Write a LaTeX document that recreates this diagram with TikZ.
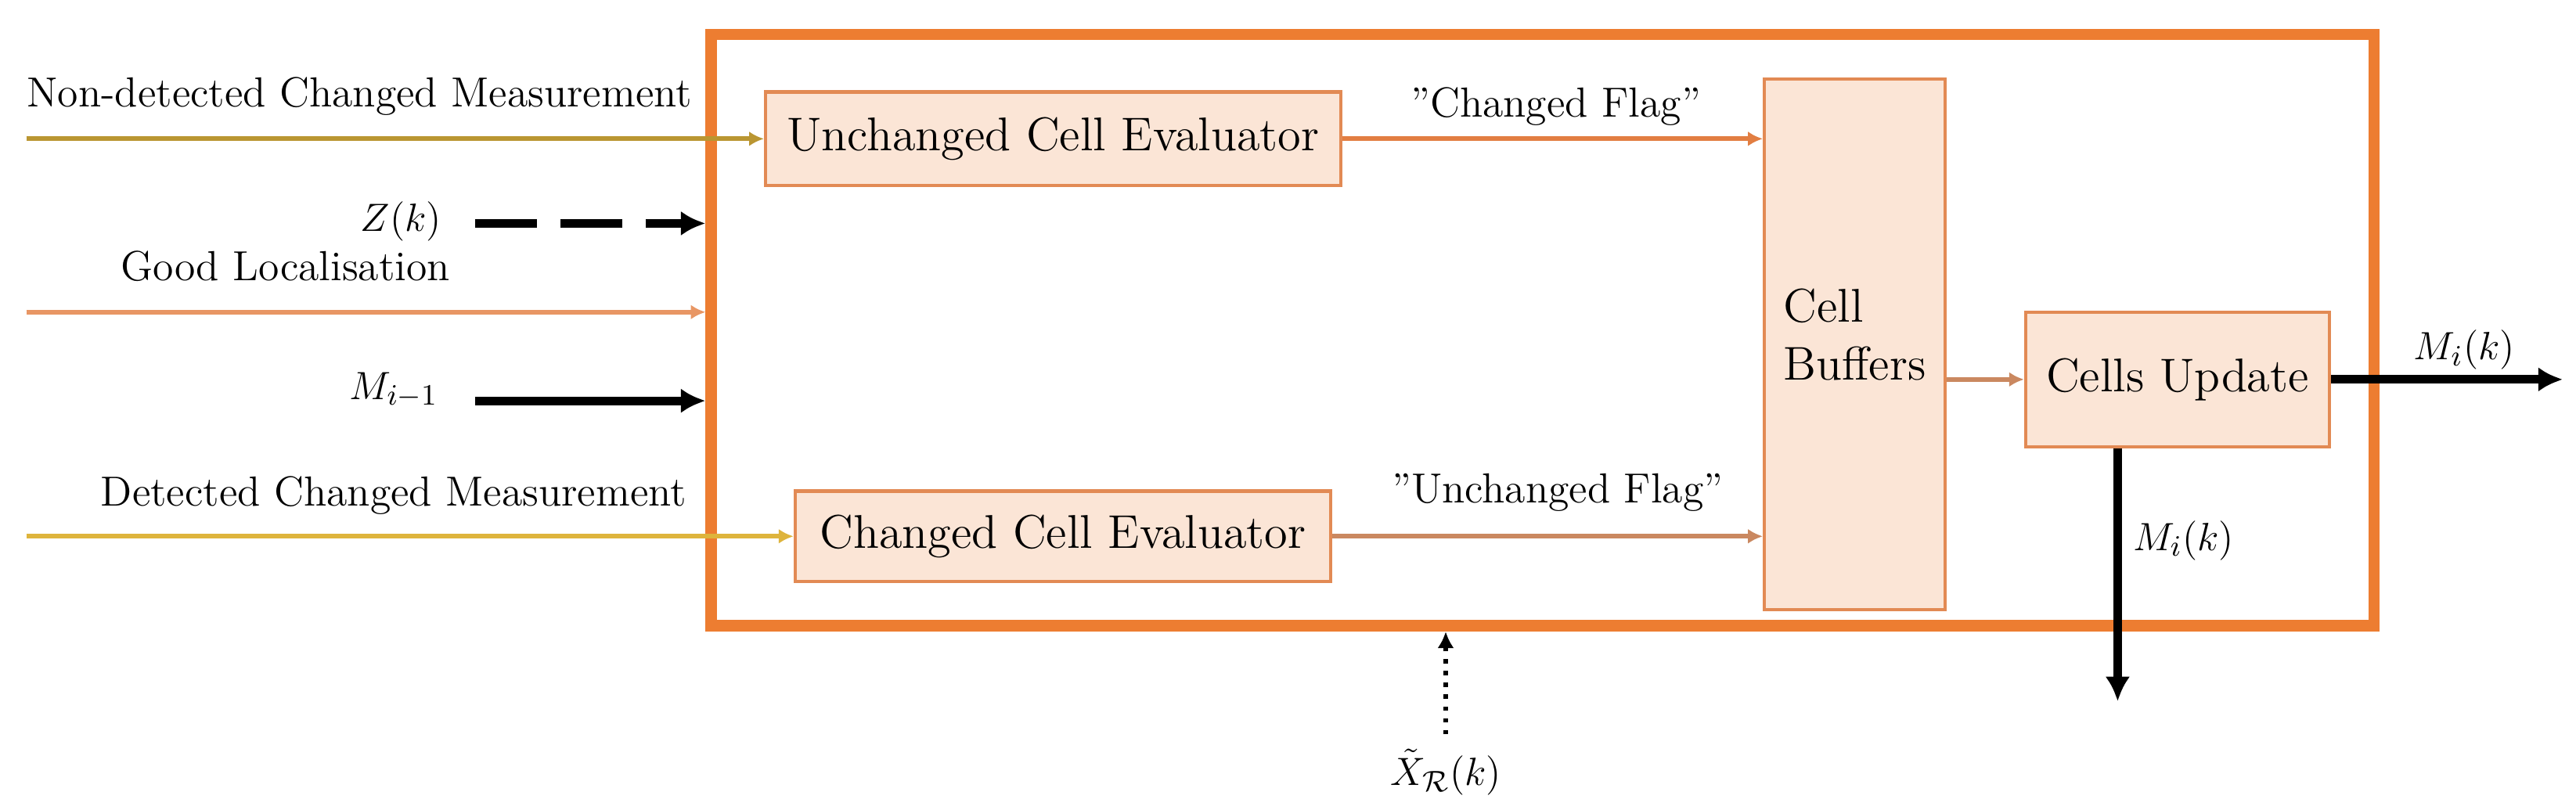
\documentclass[tikz,border=0pt]{standalone}
\usetikzlibrary{arrows.meta}
\definecolor{bigor}{RGB}{237,125,49}
\definecolor{boxfill}{RGB}{251,229,214}
\definecolor{boxline}{RGB}{226,138,84}
\definecolor{ndline}{RGB}{186,150,50}
\definecolor{glline}{RGB}{232,150,100}
\definecolor{dcline}{RGB}{222,180,60}
\definecolor{flagor}{RGB}{226,126,66}
\definecolor{flagbr}{RGB}{202,136,96}
\begin{document}
\begin{tikzpicture}[x=0.5pt,y=-0.5pt,
  lbl/.style={inner sep=0pt,font=\fontsize{12.8}{15}\selectfont},
  procbox/.style={draw=boxline,line width=1pt,fill=boxfill,inner sep=0pt,
    font=\fontsize{14.4}{17.5}\selectfont},
  thinarrow/.style={line width=1.4pt,-{Latex[length=4.5pt,width=4.5pt]}},
  blackarrow/.style={line width=2.6pt,-{Latex[length=7.5pt,width=7.5pt]}}]
\useasboundingbox (0,0) rectangle (1568,493);
% main frame
\node[draw=bigor,line width=3.5pt,fill=white,minimum width=506pt,minimum height=180pt,inner sep=0pt] (main) at (939,201) {};
% blocks
\node[procbox,minimum width=175pt,minimum height=28.5pt] (uce) at (641,84.5) {Unchanged Cell Evaluator};
\node[procbox,minimum width=163pt,minimum height=27.5pt] (cce) at (647,326.5) {Changed Cell Evaluator};
\node[procbox,minimum width=55pt,minimum height=161.5pt,align=left,text depth=6pt] (cb) at (1129,209.5) {Cell\\Buffers};
\node[procbox,minimum width=92.5pt,minimum height=41pt] (cu) at (1325.5,231) {Cells Update};
% labels
\node[lbl,anchor=base west] (ndl) at (16,65) {Non-detected Changed Measurement};
\node[lbl,anchor=base east] (zl) at (269,141) {$Z(k)$};
\node[lbl,anchor=base west] (gll) at (73,171) {Good Localisation};
\node[lbl,anchor=base east] (ml) at (267,243) {$M_{i-1}$};
\node[lbl,anchor=base west] (dcl) at (61,308) {Detected Changed Measurement};
\node[lbl,anchor=base] (cfl) at (947,71) {''Changed Flag''};
\node[lbl,anchor=base] (ufl) at (948,306) {''Unchanged Flag''};
\node[lbl,anchor=base] (mrl) at (1500,219) {$M_i(k)$};
\node[lbl,anchor=base west] (mdl) at (1298,335) {$M_i(k)$};
\node[lbl,anchor=base] (xl) at (880,478) {$\tilde{X}_{\mathcal{R}}(k)$};
% free ends
\coordinate (nd) at (16,84.5);
\coordinate (gl) at (16,190);
\coordinate (zs) at (289,136);
\coordinate (ms) at (289,244);
\coordinate (dc) at (16,326.5);
\coordinate (out) at (1560,231);
\coordinate (dn) at (1289,427);
\coordinate (xs) at (880,447);
% input connectors
\draw[thinarrow,ndline] (nd) -- (nd -| uce.west);
\draw[thinarrow,glline] (gl) -- (gl -| main.west);
\draw[blackarrow,dash pattern=on 19pt off 7pt] (zs) -- (zs -| main.west);
\draw[blackarrow] (ms) -- (ms -| main.west);
\draw[thinarrow,dcline] (dc) -- (dc -| cce.west);
% internal connectors
\draw[thinarrow,flagor] (uce.east) -- (uce.east -| cb.west);
\draw[thinarrow,flagbr] (cce.east) -- (cce.east -| cb.west);
\draw[thinarrow,flagbr] (cu.west -| cb.east) -- (cu.west);
% outputs
\draw[blackarrow] (cu.east) -- (out);
\draw[blackarrow] (dn |- cu.south) -- (dn);
\draw[line width=1.3pt,dash pattern=on 1.3pt off 2.3pt,-{Latex[length=5pt,width=5pt]}] (xs) -- (xs |- main.south);
\end{tikzpicture}
\end{document}
